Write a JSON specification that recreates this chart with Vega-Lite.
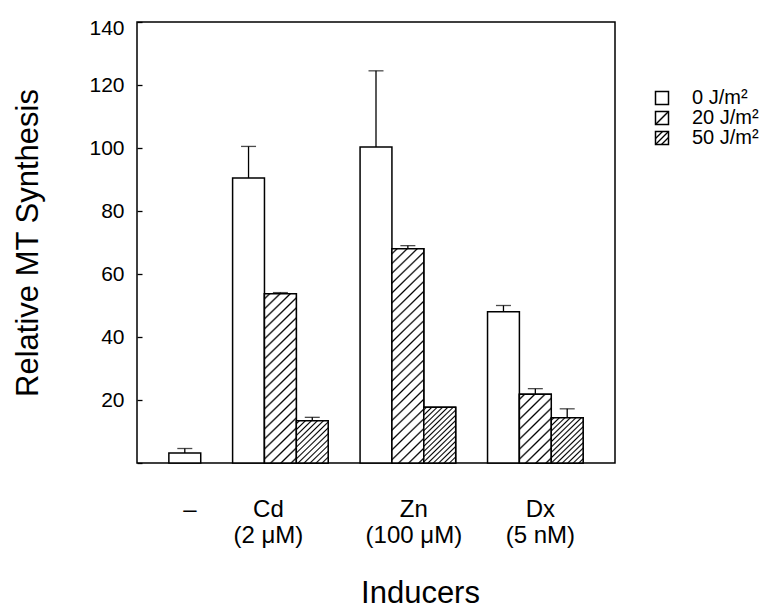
{
  "$schema": "https://vega.github.io/schema/vega-lite/v6.json",
  "width": 478,
  "height": 441,
  "autosize": "none",
  "padding": {"left": 137, "top": 22, "right": 164, "bottom": 148},
  "config": {
    "font": "Liberation Sans",
    "view": {"stroke": "black", "strokeWidth": 1.5},
    "axis": {"labelColor": "black", "titleColor": "black", "tickColor": "black", "domain": false, "grid": false, "titleFontWeight": "normal"}
  },
  "data": {"values": [
    {"inducer": "-", "dose": "0 J/m²", "value": 3.2, "upper": 4.6},
    {"inducer": "Cd", "dose": "0 J/m²", "value": 90.5, "upper": 100.5},
    {"inducer": "Cd", "dose": "20 J/m²", "value": 53.7, "upper": 54.1},
    {"inducer": "Cd", "dose": "50 J/m²", "value": 13.4, "upper": 14.5},
    {"inducer": "Zn", "dose": "0 J/m²", "value": 100.3, "upper": 124.5},
    {"inducer": "Zn", "dose": "20 J/m²", "value": 68.0, "upper": 69.0},
    {"inducer": "Zn", "dose": "50 J/m²", "value": 17.7, "upper": null},
    {"inducer": "Dx", "dose": "0 J/m²", "value": 48.0, "upper": 50.0},
    {"inducer": "Dx", "dose": "20 J/m²", "value": 21.8, "upper": 23.6},
    {"inducer": "Dx", "dose": "50 J/m²", "value": 14.4, "upper": 17.2}
  ]},
  "transform": [{"calculate": "datum.inducer + '|' + datum.dose", "as": "key"}],
  "encoding": {
    "x": {
      "field": "key", "type": "nominal",
      "scale": {
        "domain": ["-|0 J/m²", "gap1", "Cd|0 J/m²", "Cd|20 J/m²", "Cd|50 J/m²", "gap2", "Zn|0 J/m²", "Zn|20 J/m²", "Zn|50 J/m²", "gap3", "Dx|0 J/m²", "Dx|20 J/m²", "Dx|50 J/m²"],
        "paddingInner": 0, "paddingOuter": 1.21
      },
      "axis": {
        "title": "Inducers", "titleFontSize": 31, "titleX": 283, "titleY": 139, "titleBaseline": "alphabetic", "titleAlign": "center", "titleAnchor": null,
        "ticks": false, "domain": false, "labelAngle": 0, "labelFontSize": 24, "labelLineHeight": 26, "labelPadding": 34,
        "labelOverlap": false, "labelBound": false, "labelFlush": false,
        "labelExpr": "datum.value === '-|0 J/m²' ? '–' : datum.value === 'Cd|20 J/m²' ? ['Cd', '(2 μM)'] : datum.value === 'Zn|20 J/m²' ? ['Zn', '(100 μM)'] : datum.value === 'Dx|20 J/m²' ? ['Dx', '(5 nM)'] : ''",
        "labelOffset": {"condition": [
          {"test": "datum.value === '-|0 J/m²'", "value": 5},
          {"test": "datum.value === 'Cd|20 J/m²'", "value": -12},
          {"test": "datum.value === 'Zn|20 J/m²'", "value": 6},
          {"test": "datum.value === 'Dx|20 J/m²'", "value": 5}
        ], "value": 0}
      }
    }
  },
  "layer": [
    {
      "mark": {"type": "bar", "stroke": "black", "strokeWidth": 1.5},
      "encoding": {
        "y": {
          "field": "value", "type": "quantitative",
          "scale": {"domain": [0, 140], "nice": false},
          "axis": {
            "title": "Relative MT Synthesis", "titleFontSize": 31, "titleX": -105, "titleBaseline": "alphabetic",
            "values": [0, 10, 20, 30, 40, 50, 60, 70, 80, 90, 100, 110, 120, 130, 140],
            "labelExpr": "datum.value > 0 && datum.value % 20 === 0 ? datum.label : ''",
            "labelFontSize": 21, "labelPadding": 13, "tickSize": 5, "tickWidth": 1.3, "offset": -5,
            "labelOffset": {"condition": {"test": "datum.value === 140", "value": 6}, "value": 0}
          }
        },
        "fill": {
          "field": "dose", "type": "nominal",
          "scale": {"domain": ["0 J/m²", "20 J/m²", "50 J/m²"], "range": [
            "white",
            {"expr": "{gradient: 'linear', x1: 0, y1: 0, x2: 1, y2: 1, stops: [{offset: 0.42, color: 'white'}, {offset: 0.5, color: 'black'}, {offset: 0.58, color: 'white'}]}"},
            {"expr": "{gradient: 'linear', x1: 0, y1: 0, x2: 1, y2: 1, stops: [{offset: 0.2, color: 'white'}, {offset: 0.27, color: 'black'}, {offset: 0.34, color: 'white'}, {offset: 0.43, color: 'white'}, {offset: 0.5, color: 'black'}, {offset: 0.57, color: 'white'}, {offset: 0.66, color: 'white'}, {offset: 0.73, color: 'black'}, {offset: 0.8, color: 'white'}]}"}
          ]},
          "legend": {
            "title": null, "orient": "none", "legendX": 515, "legendY": 66,
            "symbolType": "square", "symbolSize": 169, "symbolStrokeWidth": 1.5, "symbolStrokeColor": "black",
            "labelFontSize": 20, "labelColor": "black", "labelOffset": 20, "rowPadding": 0, "padding": 0,
            "labelExpr": "datum.value === '0 J/m²' ? '\u20070 J/m²' : datum.label"
          }
        }
      }
    },
    {
      "transform": [{"filter": "datum.dose !== '0 J/m²'"}],
      "mark": {"type": "bar", "stroke": "black", "strokeWidth": 1.5},
      "encoding": {
        "y": {"field": "value", "type": "quantitative", "title": "Relative MT Synthesis", "scale": {"domain": [0, 140], "nice": false}},
        "fill": {
          "condition": [
            {"test": "datum.key === 'Cd|20 J/m²'", "value": {"gradient": "linear", "x1": 0, "y1": 0, "x2": 0.2097, "y2": 1.1448, "stops": [
              {"offset": 0.016, "color": "white"}, {"offset": 0.025, "color": "black"}, {"offset": 0.034, "color": "white"},
              {"offset": 0.066, "color": "white"}, {"offset": 0.075, "color": "black"}, {"offset": 0.084, "color": "white"},
              {"offset": 0.116, "color": "white"}, {"offset": 0.125, "color": "black"}, {"offset": 0.134, "color": "white"},
              {"offset": 0.166, "color": "white"}, {"offset": 0.175, "color": "black"}, {"offset": 0.184, "color": "white"},
              {"offset": 0.216, "color": "white"}, {"offset": 0.225, "color": "black"}, {"offset": 0.234, "color": "white"},
              {"offset": 0.266, "color": "white"}, {"offset": 0.275, "color": "black"}, {"offset": 0.284, "color": "white"},
              {"offset": 0.316, "color": "white"}, {"offset": 0.325, "color": "black"}, {"offset": 0.334, "color": "white"},
              {"offset": 0.366, "color": "white"}, {"offset": 0.375, "color": "black"}, {"offset": 0.384, "color": "white"},
              {"offset": 0.416, "color": "white"}, {"offset": 0.425, "color": "black"}, {"offset": 0.434, "color": "white"},
              {"offset": 0.466, "color": "white"}, {"offset": 0.475, "color": "black"}, {"offset": 0.484, "color": "white"},
              {"offset": 0.516, "color": "white"}, {"offset": 0.525, "color": "black"}, {"offset": 0.534, "color": "white"},
              {"offset": 0.566, "color": "white"}, {"offset": 0.575, "color": "black"}, {"offset": 0.584, "color": "white"},
              {"offset": 0.616, "color": "white"}, {"offset": 0.625, "color": "black"}, {"offset": 0.634, "color": "white"},
              {"offset": 0.666, "color": "white"}, {"offset": 0.675, "color": "black"}, {"offset": 0.684, "color": "white"},
              {"offset": 0.716, "color": "white"}, {"offset": 0.725, "color": "black"}, {"offset": 0.734, "color": "white"},
              {"offset": 0.766, "color": "white"}, {"offset": 0.775, "color": "black"}, {"offset": 0.784, "color": "white"},
              {"offset": 0.816, "color": "white"}, {"offset": 0.825, "color": "black"}, {"offset": 0.834, "color": "white"},
              {"offset": 0.866, "color": "white"}, {"offset": 0.875, "color": "black"}, {"offset": 0.884, "color": "white"},
              {"offset": 0.916, "color": "white"}, {"offset": 0.925, "color": "black"}, {"offset": 0.934, "color": "white"},
              {"offset": 0.966, "color": "white"}, {"offset": 0.975, "color": "black"}, {"offset": 0.984, "color": "white"}]}},
            {"test": "datum.key === 'Zn|20 J/m²'", "value": {"gradient": "linear", "x1": 0, "y1": 0, "x2": 0.1623, "y2": 1.1212, "stops": [
              {"offset": 0.013, "color": "white"}, {"offset": 0.02, "color": "black"}, {"offset": 0.027, "color": "white"},
              {"offset": 0.053, "color": "white"}, {"offset": 0.06, "color": "black"}, {"offset": 0.067, "color": "white"},
              {"offset": 0.093, "color": "white"}, {"offset": 0.1, "color": "black"}, {"offset": 0.107, "color": "white"},
              {"offset": 0.133, "color": "white"}, {"offset": 0.14, "color": "black"}, {"offset": 0.147, "color": "white"},
              {"offset": 0.173, "color": "white"}, {"offset": 0.18, "color": "black"}, {"offset": 0.187, "color": "white"},
              {"offset": 0.213, "color": "white"}, {"offset": 0.22, "color": "black"}, {"offset": 0.227, "color": "white"},
              {"offset": 0.253, "color": "white"}, {"offset": 0.26, "color": "black"}, {"offset": 0.267, "color": "white"},
              {"offset": 0.293, "color": "white"}, {"offset": 0.3, "color": "black"}, {"offset": 0.307, "color": "white"},
              {"offset": 0.333, "color": "white"}, {"offset": 0.34, "color": "black"}, {"offset": 0.347, "color": "white"},
              {"offset": 0.373, "color": "white"}, {"offset": 0.38, "color": "black"}, {"offset": 0.387, "color": "white"},
              {"offset": 0.413, "color": "white"}, {"offset": 0.42, "color": "black"}, {"offset": 0.427, "color": "white"},
              {"offset": 0.453, "color": "white"}, {"offset": 0.46, "color": "black"}, {"offset": 0.467, "color": "white"},
              {"offset": 0.493, "color": "white"}, {"offset": 0.5, "color": "black"}, {"offset": 0.507, "color": "white"},
              {"offset": 0.533, "color": "white"}, {"offset": 0.54, "color": "black"}, {"offset": 0.547, "color": "white"},
              {"offset": 0.573, "color": "white"}, {"offset": 0.58, "color": "black"}, {"offset": 0.587, "color": "white"},
              {"offset": 0.613, "color": "white"}, {"offset": 0.62, "color": "black"}, {"offset": 0.627, "color": "white"},
              {"offset": 0.653, "color": "white"}, {"offset": 0.66, "color": "black"}, {"offset": 0.667, "color": "white"},
              {"offset": 0.693, "color": "white"}, {"offset": 0.7, "color": "black"}, {"offset": 0.707, "color": "white"},
              {"offset": 0.733, "color": "white"}, {"offset": 0.74, "color": "black"}, {"offset": 0.747, "color": "white"},
              {"offset": 0.773, "color": "white"}, {"offset": 0.78, "color": "black"}, {"offset": 0.787, "color": "white"},
              {"offset": 0.813, "color": "white"}, {"offset": 0.82, "color": "black"}, {"offset": 0.827, "color": "white"},
              {"offset": 0.853, "color": "white"}, {"offset": 0.86, "color": "black"}, {"offset": 0.867, "color": "white"},
              {"offset": 0.893, "color": "white"}, {"offset": 0.9, "color": "black"}, {"offset": 0.907, "color": "white"},
              {"offset": 0.933, "color": "white"}, {"offset": 0.94, "color": "black"}, {"offset": 0.947, "color": "white"},
              {"offset": 0.973, "color": "white"}, {"offset": 0.98, "color": "black"}, {"offset": 0.987, "color": "white"}]}},
            {"test": "datum.key === 'Dx|20 J/m²'", "value": {"gradient": "linear", "x1": 0, "y1": 0, "x2": 0.544, "y2": 1.2057, "stops": [
              {"offset": 0.032, "color": "white"}, {"offset": 0.05, "color": "black"}, {"offset": 0.068, "color": "white"},
              {"offset": 0.132, "color": "white"}, {"offset": 0.15, "color": "black"}, {"offset": 0.168, "color": "white"},
              {"offset": 0.232, "color": "white"}, {"offset": 0.25, "color": "black"}, {"offset": 0.268, "color": "white"},
              {"offset": 0.332, "color": "white"}, {"offset": 0.35, "color": "black"}, {"offset": 0.368, "color": "white"},
              {"offset": 0.432, "color": "white"}, {"offset": 0.45, "color": "black"}, {"offset": 0.468, "color": "white"},
              {"offset": 0.532, "color": "white"}, {"offset": 0.55, "color": "black"}, {"offset": 0.568, "color": "white"},
              {"offset": 0.632, "color": "white"}, {"offset": 0.65, "color": "black"}, {"offset": 0.668, "color": "white"},
              {"offset": 0.732, "color": "white"}, {"offset": 0.75, "color": "black"}, {"offset": 0.768, "color": "white"},
              {"offset": 0.832, "color": "white"}, {"offset": 0.85, "color": "black"}, {"offset": 0.868, "color": "white"},
              {"offset": 0.932, "color": "white"}, {"offset": 0.95, "color": "black"}, {"offset": 0.968, "color": "white"}]}},
            {"test": "datum.key === 'Cd|50 J/m²'", "value": {"gradient": "linear", "x1": 0, "y1": 0, "x2": 0.8276, "y2": 1.1266, "stops": [
              {"offset": 0.02, "color": "white"}, {"offset": 0.04, "color": "black"}, {"offset": 0.06, "color": "white"},
              {"offset": 0.1, "color": "white"}, {"offset": 0.12, "color": "black"}, {"offset": 0.14, "color": "white"},
              {"offset": 0.18, "color": "white"}, {"offset": 0.2, "color": "black"}, {"offset": 0.22, "color": "white"},
              {"offset": 0.26, "color": "white"}, {"offset": 0.28, "color": "black"}, {"offset": 0.3, "color": "white"},
              {"offset": 0.34, "color": "white"}, {"offset": 0.36, "color": "black"}, {"offset": 0.38, "color": "white"},
              {"offset": 0.42, "color": "white"}, {"offset": 0.44, "color": "black"}, {"offset": 0.46, "color": "white"},
              {"offset": 0.5, "color": "white"}, {"offset": 0.52, "color": "black"}, {"offset": 0.54, "color": "white"},
              {"offset": 0.58, "color": "white"}, {"offset": 0.6, "color": "black"}, {"offset": 0.62, "color": "white"},
              {"offset": 0.66, "color": "white"}, {"offset": 0.68, "color": "black"}, {"offset": 0.7, "color": "white"},
              {"offset": 0.74, "color": "white"}, {"offset": 0.76, "color": "black"}, {"offset": 0.78, "color": "white"},
              {"offset": 0.82, "color": "white"}, {"offset": 0.84, "color": "black"}, {"offset": 0.86, "color": "white"},
              {"offset": 0.9, "color": "white"}, {"offset": 0.92, "color": "black"}, {"offset": 0.94, "color": "white"}]}},
            {"test": "datum.key === 'Zn|50 J/m²'", "value": {"gradient": "linear", "x1": 0, "y1": 0, "x2": 0.6603, "y2": 1.1886, "stops": [
              {"offset": 0.013, "color": "white"}, {"offset": 0.03, "color": "black"}, {"offset": 0.047, "color": "white"},
              {"offset": 0.073, "color": "white"}, {"offset": 0.09, "color": "black"}, {"offset": 0.107, "color": "white"},
              {"offset": 0.133, "color": "white"}, {"offset": 0.15, "color": "black"}, {"offset": 0.167, "color": "white"},
              {"offset": 0.193, "color": "white"}, {"offset": 0.21, "color": "black"}, {"offset": 0.227, "color": "white"},
              {"offset": 0.253, "color": "white"}, {"offset": 0.27, "color": "black"}, {"offset": 0.287, "color": "white"},
              {"offset": 0.313, "color": "white"}, {"offset": 0.33, "color": "black"}, {"offset": 0.347, "color": "white"},
              {"offset": 0.373, "color": "white"}, {"offset": 0.39, "color": "black"}, {"offset": 0.407, "color": "white"},
              {"offset": 0.433, "color": "white"}, {"offset": 0.45, "color": "black"}, {"offset": 0.467, "color": "white"},
              {"offset": 0.493, "color": "white"}, {"offset": 0.51, "color": "black"}, {"offset": 0.527, "color": "white"},
              {"offset": 0.553, "color": "white"}, {"offset": 0.57, "color": "black"}, {"offset": 0.587, "color": "white"},
              {"offset": 0.613, "color": "white"}, {"offset": 0.63, "color": "black"}, {"offset": 0.647, "color": "white"},
              {"offset": 0.673, "color": "white"}, {"offset": 0.69, "color": "black"}, {"offset": 0.707, "color": "white"},
              {"offset": 0.733, "color": "white"}, {"offset": 0.75, "color": "black"}, {"offset": 0.767, "color": "white"},
              {"offset": 0.793, "color": "white"}, {"offset": 0.81, "color": "black"}, {"offset": 0.827, "color": "white"},
              {"offset": 0.853, "color": "white"}, {"offset": 0.87, "color": "black"}, {"offset": 0.887, "color": "white"},
              {"offset": 0.913, "color": "white"}, {"offset": 0.93, "color": "black"}, {"offset": 0.947, "color": "white"}]}},
            {"test": "datum.key === 'Dx|50 J/m²'", "value": {"gradient": "linear", "x1": 0, "y1": 0, "x2": 0.7837, "y2": 1.1478, "stops": [
              {"offset": 0.015, "color": "white"}, {"offset": 0.035, "color": "black"}, {"offset": 0.055, "color": "white"},
              {"offset": 0.085, "color": "white"}, {"offset": 0.105, "color": "black"}, {"offset": 0.125, "color": "white"},
              {"offset": 0.155, "color": "white"}, {"offset": 0.175, "color": "black"}, {"offset": 0.195, "color": "white"},
              {"offset": 0.225, "color": "white"}, {"offset": 0.245, "color": "black"}, {"offset": 0.265, "color": "white"},
              {"offset": 0.295, "color": "white"}, {"offset": 0.315, "color": "black"}, {"offset": 0.335, "color": "white"},
              {"offset": 0.365, "color": "white"}, {"offset": 0.385, "color": "black"}, {"offset": 0.405, "color": "white"},
              {"offset": 0.435, "color": "white"}, {"offset": 0.455, "color": "black"}, {"offset": 0.475, "color": "white"},
              {"offset": 0.505, "color": "white"}, {"offset": 0.525, "color": "black"}, {"offset": 0.545, "color": "white"},
              {"offset": 0.575, "color": "white"}, {"offset": 0.595, "color": "black"}, {"offset": 0.615, "color": "white"},
              {"offset": 0.645, "color": "white"}, {"offset": 0.665, "color": "black"}, {"offset": 0.685, "color": "white"},
              {"offset": 0.715, "color": "white"}, {"offset": 0.735, "color": "black"}, {"offset": 0.755, "color": "white"},
              {"offset": 0.785, "color": "white"}, {"offset": 0.805, "color": "black"}, {"offset": 0.825, "color": "white"},
              {"offset": 0.855, "color": "white"}, {"offset": 0.875, "color": "black"}, {"offset": 0.895, "color": "white"},
              {"offset": 0.925, "color": "white"}, {"offset": 0.945, "color": "black"}, {"offset": 0.965, "color": "white"}]}}
          ],
          "value": "white"
        }
      }
    },
    {
      "transform": [{"filter": "datum.upper != null"}],
      "mark": {"type": "rule", "color": "black", "strokeWidth": 1.3},
      "encoding": {
        "y": {"field": "value", "type": "quantitative", "title": "Relative MT Synthesis", "scale": {"domain": [0, 140], "nice": false}},
        "y2": {"field": "upper"}
      }
    },
    {
      "transform": [{"filter": "datum.upper != null"}],
      "mark": {"type": "tick", "color": "black", "size": 15, "thickness": 1.3},
      "encoding": {
        "y": {"field": "upper", "type": "quantitative", "title": "Relative MT Synthesis", "scale": {"domain": [0, 140], "nice": false}}
      }
    }
  ]
}
